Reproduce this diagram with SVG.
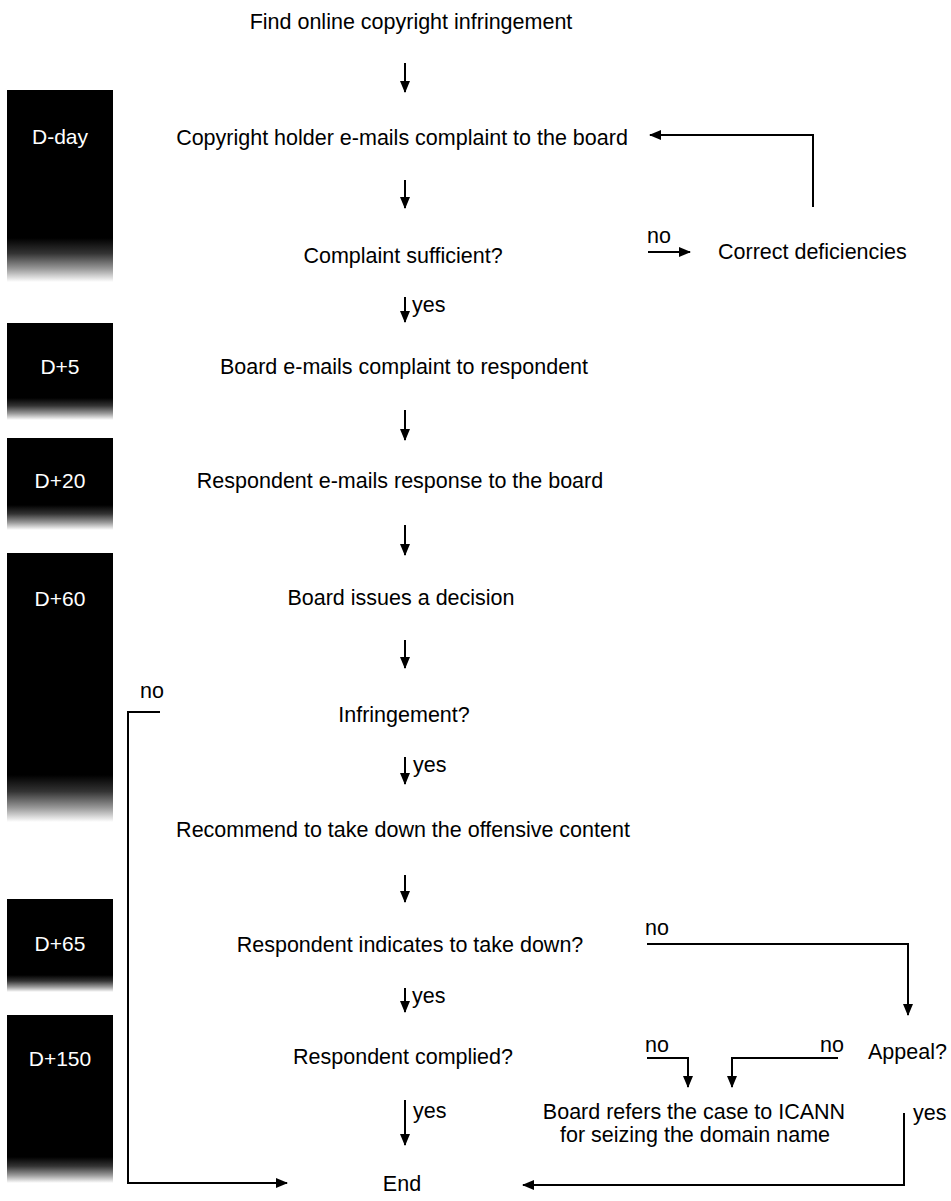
<svg xmlns="http://www.w3.org/2000/svg" width="951" height="1201" viewBox="0 0 951 1201">
<defs>
<style>
text{font-family:"Liberation Sans",Arial,sans-serif;font-size:21.5px;fill:#000}
.m{text-anchor:middle}
.bl{fill:#fff;text-anchor:middle;font-size:21px}
.ln{fill:none;stroke:#000;stroke-width:2}
.blk{fill:#000}
</style>
<linearGradient id="dith" x1="0" y1="0" x2="0" y2="1">
<stop offset="0" stop-color="#000"/>
<stop offset="0.35" stop-color="#333"/>
<stop offset="0.7" stop-color="#999"/>
<stop offset="1" stop-color="#fff"/>
</linearGradient>
<marker id="ah" markerWidth="12" markerHeight="12" viewBox="0 0 12 12" refX="11" refY="6" orient="auto" markerUnits="userSpaceOnUse">
<path d="M0,1 L12,6 L0,11 z" fill="#000"/>
</marker>
</defs>
<rect width="951" height="1201" fill="#fff"/>

<g id="bar-dday"><rect class="blk" x="7" y="90" width="106" height="150"/><rect x="7" y="238" width="106" height="44" fill="url(#dith)"/><text class="bl" x="60" y="144">D-day</text></g>
<g id="bar-d5"><rect class="blk" x="7" y="323" width="106" height="77"/><rect x="7" y="398" width="106" height="22" fill="url(#dith)"/><text class="bl" x="60" y="374">D+5</text></g>
<g id="bar-d20"><rect class="blk" x="7" y="438" width="106" height="69"/><rect x="7" y="505" width="106" height="25" fill="url(#dith)"/><text class="bl" x="60" y="488">D+20</text></g>
<g id="bar-d60"><rect class="blk" x="7" y="553" width="106" height="224"/><rect x="7" y="775" width="106" height="47" fill="url(#dith)"/><text class="bl" x="60" y="606">D+60</text></g>
<g id="bar-d65"><rect class="blk" x="7" y="899" width="106" height="78"/><rect x="7" y="975" width="106" height="17" fill="url(#dith)"/><text class="bl" x="60" y="951">D+65</text></g>
<g id="bar-d150"><rect class="blk" x="7" y="1015" width="106" height="144"/><rect x="7" y="1157" width="106" height="26" fill="url(#dith)"/><text class="bl" x="60" y="1066">D+150</text></g>

<g id="n-find"><text class="m" x="411" y="29">Find online copyright infringement</text></g>
<g id="n-email"><text class="m" x="402" y="145">Copyright holder e-mails complaint to the board</text></g>
<g id="n-sufficient"><text class="m" x="403" y="263">Complaint sufficient?</text></g>
<g id="n-correct"><text x="718" y="259">Correct deficiencies</text></g>
<g id="n-board-emails"><text class="m" x="404" y="374">Board e-mails complaint to respondent</text></g>
<g id="n-response"><text class="m" x="400" y="488">Respondent e-mails response to the board</text></g>
<g id="n-decision"><text class="m" x="401" y="605">Board issues a decision</text></g>
<g id="n-infringement"><text class="m" x="404" y="722">Infringement?</text></g>
<g id="n-recommend"><text class="m" x="403" y="837">Recommend to take down the offensive content</text></g>
<g id="n-indicates"><text class="m" x="410" y="952">Respondent indicates to take down?</text></g>
<g id="n-complied"><text class="m" x="403" y="1064">Respondent complied?</text></g>
<g id="n-appeal"><text x="868" y="1059">Appeal?</text></g>
<g id="n-icann"><text class="m" x="694" y="1119">Board refers the case to ICANN</text><text class="m" x="695" y="1142">for seizing the domain name</text></g>
<g id="n-end"><text class="m" x="402" y="1191">End</text></g>

<g id="connectors">
<line class="ln" x1="405" y1="63" x2="405" y2="92" marker-end="url(#ah)"/>
<line class="ln" x1="405" y1="180" x2="405" y2="208" marker-end="url(#ah)"/>
<line class="ln" x1="405" y1="297" x2="405" y2="322" marker-end="url(#ah)"/>
<text x="412" y="312">yes</text>
<line class="ln" x1="648" y1="252" x2="690" y2="252" marker-end="url(#ah)"/>
<text x="647" y="243">no</text>
<polyline class="ln" points="813,207 813,135 650,135" marker-end="url(#ah)"/>
<line class="ln" x1="405" y1="410" x2="405" y2="440" marker-end="url(#ah)"/>
<line class="ln" x1="405" y1="525" x2="405" y2="555" marker-end="url(#ah)"/>
<line class="ln" x1="405" y1="640" x2="405" y2="668" marker-end="url(#ah)"/>
<line class="ln" x1="405" y1="757" x2="405" y2="784" marker-end="url(#ah)"/>
<text x="413" y="772">yes</text>
<text x="140" y="698">no</text>
<polyline class="ln" points="160,712 128,712 128,1183 287,1183" marker-end="url(#ah)"/>
<line class="ln" x1="405" y1="875" x2="405" y2="902" marker-end="url(#ah)"/>
<line class="ln" x1="405" y1="988" x2="405" y2="1012" marker-end="url(#ah)"/>
<text x="412" y="1003">yes</text>
<text x="645" y="935">no</text>
<polyline class="ln" points="647,944 908,944 908,1015" marker-end="url(#ah)"/>
<line class="ln" x1="405" y1="1100" x2="405" y2="1145" marker-end="url(#ah)"/>
<text x="413" y="1118">yes</text>
<text x="645" y="1052">no</text>
<polyline class="ln" points="647,1058 688,1058 688,1087" marker-end="url(#ah)"/>
<text x="820" y="1052">no</text>
<polyline class="ln" points="838,1058 732,1058 732,1087" marker-end="url(#ah)"/>
<text x="913" y="1120">yes</text>
<polyline class="ln" points="904,1113 904,1185 523,1185" marker-end="url(#ah)"/>
</g>
</svg>
